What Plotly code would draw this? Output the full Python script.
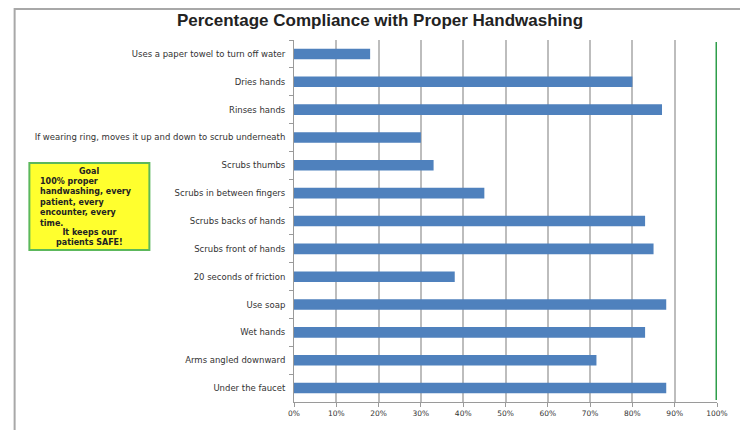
import plotly.graph_objects as go

categories = [
    "Uses a paper towel to turn off water",
    "Dries hands",
    "Rinses hands",
    "If wearing ring, moves it up and down to scrub underneath",
    "Scrubs thumbs",
    "Scrubs in between fingers",
    "Scrubs backs of hands",
    "Scrubs front of hands",
    "20 seconds of friction",
    "Use soap",
    "Wet hands",
    "Arms angled downward",
    "Under the faucet",
]
compliance = [0.18, 0.80, 0.87, 0.30, 0.33, 0.45, 0.83, 0.85, 0.38, 0.88, 0.83, 0.715, 0.88]
goal = 1.0
x_ticks = [0, 0.1, 0.2, 0.3, 0.4, 0.5, 0.6, 0.7, 0.8, 0.9, 1.0]
title_text = "Percentage Compliance with Proper Handwashing"
goal_head = "Goal"
goal_body = "100% proper<br>handwashing, every<br>patient, every<br>encounter, every<br>time."
goal_foot = "It keeps our<br>patients SAFE!"

W, H = 740, 430
L, R, T, B = 294, 16, 40, 16
PW, PH = W - L - R, H - T - B

def xp(px):
    return (px - L) / PW

def yp(py):
    return (H - B - py) / PH

fig = go.Figure()
fig.add_trace(go.Bar(
    y=categories, x=compliance, orientation="h",
    marker=dict(color="#4F81BD", line=dict(width=0)),
    hoverinfo="skip",
))

fig.update_layout(
    width=W, height=H,
    margin=dict(l=L, r=R, t=T, b=B),
    paper_bgcolor="white", plot_bgcolor="white",
    showlegend=False,
    bargap=0.62,
    title=dict(text="<b>" + title_text + "</b>", x=380 / W, y=1 - 20 / H,
               xanchor="center", yanchor="middle",
               font=dict(family="Liberation Sans", size=17, color="#222")),
    xaxis=dict(range=[0, 1], tickvals=x_ticks, tickformat=".0%",
               showgrid=True, gridcolor="#BDBDBD", gridwidth=1.5,
               showline=True, linecolor="#9a9a9a", linewidth=1,
               ticks="outside", ticklen=4, tickcolor="#9a9a9a",
               tickfont=dict(family="DejaVu Sans", size=7.5, color="#333"),
               zeroline=False, fixedrange=True),
    yaxis=dict(autorange="reversed", showgrid=False,
               showline=True, linecolor="#9a9a9a", linewidth=1,
               ticks="outside", ticklen=4, tickcolor="#9a9a9a",
               tickson="boundaries",
               tickfont=dict(family="DejaVu Sans", size=8.5, color="#333"),
               ticklabelstandoff=6, fixedrange=True),
)

shapes = [
    dict(type="rect", xref="paper", yref="paper",
         x0=xp(10), x1=xp(760), y0=yp(450), y1=yp(8),
         line=dict(color="#a8a8a8", width=2), fillcolor="rgba(0,0,0,0)", layer="below"),
    dict(type="line", xref="x", yref="paper", x0=goal, x1=goal,
         y0=yp(412), y1=yp(42), line=dict(color="#2E9E4A", width=3)),
    dict(type="rect", xref="paper", yref="paper",
         x0=xp(25), x1=xp(147), y0=yp(257), y1=yp(167),
         line=dict(color="#5CB85C", width=2), fillcolor="#FFFF2E"),
]
fig.update_layout(shapes=shapes)

box_font = dict(family="DejaVu Sans", size=8, color="#222")
fig.add_annotation(xref="paper", yref="paper", x=xp(86), y=yp(175.5),
                   text="<b>" + goal_head + "</b>", showarrow=False,
                   xanchor="center", yanchor="middle", font=box_font)
fig.add_annotation(xref="paper", yref="paper", x=xp(34), y=yp(207.5),
                   text="<b>" + goal_body + "</b>", showarrow=False, align="left",
                   xanchor="left", yanchor="middle", font=box_font)
fig.add_annotation(xref="paper", yref="paper", x=xp(86), y=yp(244.5),
                   text="<b>" + goal_foot + "</b>", showarrow=False, align="center",
                   xanchor="center", yanchor="middle", font=box_font)

fig.write_html("out.html")
